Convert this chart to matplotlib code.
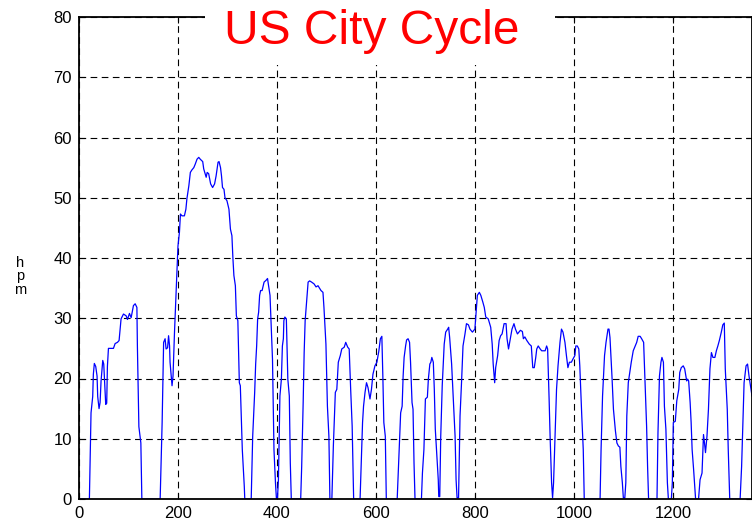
import matplotlib
matplotlib.use('Agg')
import matplotlib.pyplot as plt
from matplotlib.patches import Rectangle

plt.rcParams['font.family'] = ['Liberation Sans', 'DejaVu Sans']

# speed trace (time in s, speed in mph)
time_s = [0, 21, 22.3, 24.3, 27.7, 29, 31, 33.8, 36.5, 37.8, 40.5, 42.6, 44.6, 48, 50, 51.4, 54, 56, 57.4, 59.5,
          62.8, 69.6, 73, 77.7, 81, 85, 89.9, 95.3, 98, 102, 105.4, 110, 113.5, 117, 118, 121, 125, 127,
          164, 166, 168, 171, 174, 176, 179, 181, 183, 184, 188, 190, 193, 196, 198, 200, 203, 205, 208, 213,
          216, 218, 222, 225, 228, 232, 235, 238.5, 242, 245, 250, 252, 257, 259, 262, 266, 270, 274, 277, 279,
          281, 283, 286, 288, 290, 293, 295, 299, 303, 306, 309, 311, 313, 316, 318, 321, 324, 326, 330, 334, 335,
          348, 351, 355, 357, 359, 361, 363, 365, 367, 370, 374, 378, 381, 382, 386, 389, 391, 394, 397, 399,
          401, 403, 406, 409, 411, 413, 414, 416, 419, 422, 425, 427, 429,
          448, 450, 453, 455, 457, 460, 463, 466, 470, 475, 479, 483, 489, 493, 495, 499, 502, 505, 507,
          511, 514, 518, 521, 524, 528, 531, 536, 539, 543, 546, 549, 552, 555,
          568, 570, 573, 575, 578, 581, 584, 588, 591, 594, 598, 602, 606, 609, 612, 614, 616, 619, 621,
          643, 647, 650, 653, 655, 657, 660, 662, 665, 668, 670, 673, 675, 677, 679,
          692, 694, 697, 700, 704, 706, 709, 711, 713, 716, 718, 720, 724, 726, 727, 729, 731, 734, 736, 738,
          741, 745, 747, 749, 753, 756, 760, 762, 764, 767, 770, 773, 776, 780, 783, 787, 790, 795, 800, 803,
          805, 809, 812, 816, 819, 822, 827, 832, 835, 837, 840, 842, 846, 849, 852, 855, 859, 863, 865, 868,
          871, 875, 879, 882, 886, 889, 892, 896, 898, 901, 905, 910, 914, 917, 920, 923, 925, 928, 932, 935,
          938, 942, 945, 947, 950, 952, 955, 957, 959, 962, 965, 968, 972, 975, 978, 982, 985, 988, 991, 995,
          998, 1002, 1004, 1007, 1010, 1012, 1016, 1019, 1021,
          1053, 1055, 1058, 1060, 1062, 1065, 1069, 1071, 1073, 1077, 1080, 1084, 1087, 1090, 1093, 1095, 1098,
          1100, 1103, 1105, 1107, 1110, 1113, 1116, 1120, 1124, 1127, 1130, 1134, 1137, 1141, 1144, 1147, 1149, 1151,
          1168, 1170, 1173, 1176, 1178, 1181, 1183, 1186, 1189, 1191, 1197, 1199, 1201, 1205, 1208, 1212, 1214,
          1217, 1221, 1224, 1228, 1230, 1232, 1235, 1237, 1239, 1242, 1246, 1252, 1255, 1259, 1262, 1264, 1266,
          1269, 1272, 1275, 1278, 1281, 1285, 1288, 1291, 1294, 1298, 1301, 1304, 1306, 1310, 1312, 1315,
          1336, 1339, 1342, 1344, 1348, 1351, 1354, 1356, 1360]
speed_mph = [0, 0, 6, 14.3, 17, 20.7, 22.5, 22, 20.4, 17, 15, 16, 19.6, 23, 22.4, 20, 15.7, 15.9, 22, 25,
             25, 25, 25.8, 26, 26.3, 29.9, 30.7, 30.4, 29.8, 30.8, 30.1, 32.1, 32.4, 31.8, 25.4, 12, 9.3, 0,
             0, 6.6, 12.7, 26, 26.6, 24.9, 25.1, 27.1, 25.4, 22.7, 18.8, 20.4, 27.7, 33.8, 38.2, 42, 44.3, 47.3, 47, 47,
             48.1, 49.8, 52, 54.2, 54.6, 55, 55.6, 56.4, 56.7, 56.4, 56, 54.8, 53.4, 54.2, 54, 52.3, 51.7, 52.3, 53.6, 54.8,
             55.9, 56, 55, 53.6, 51.7, 51.4, 50, 49.5, 48.1, 44.8, 43.7, 40, 37.1, 35.4, 30.4, 29.6, 19.3, 18.8, 8.2, 2.1, 0,
             0, 10.4, 17.7, 22.4, 25.4, 29.9, 31, 33.8, 34.6, 34.6, 36, 36.3, 36.6, 36, 33.8, 27.7, 23.2, 8.2, 2.7, 0,
             0, 3.2, 17.1, 19.9, 25.4, 26.6, 29.6, 30.2, 29.9, 19.9, 17.1, 6, 0,
             0, 5.4, 16, 24.3, 29.6, 32.7, 36, 36.2, 36, 35.7, 35.2, 35.4, 34.6, 34.3, 31.8, 25.7, 15.4, 10.4, 0,
             0, 8.8, 17.7, 18.2, 22.7, 23.8, 24.9, 25.2, 26, 25.2, 24.9, 18.2, 12.1, 0,
             0, 4.9, 12.7, 15.4, 17.7, 19.3, 18.5, 16.6, 18.2, 20.7, 22.1, 22.7, 24.6, 26.6, 27, 20.4, 12.7, 10.4, 0,
             0, 8.2, 14.3, 15.4, 20.4, 23.5, 25.4, 26.4, 26.6, 26, 22.7, 16, 14.9, 6, 0,
             0, 4.3, 8.2, 16.6, 16.9, 19.9, 22.4, 22.7, 23.5, 22.7, 18.2, 11.6, 6, 3.2, 0.4, 0.4, 10.4, 18.8, 22.1, 25.7,
             27.7, 28.2, 28.5, 26.8, 22.4, 17.1, 10.4, 3.2, 0.2, 0.2, 13.8, 19.3, 25.4, 27.4, 29.1, 28.9, 28.2, 27.7, 28.2, 31.6,
             33.8, 34.3, 33.8, 32.7, 31.8, 30.2, 29.9, 28.5, 25.7, 22.4, 19.3, 21.8, 23.8, 26.3, 27.1, 27.4, 29.1, 29.1, 26.6, 24.9,
             26.3, 28.2, 29.1, 28.2, 27.4, 27.7, 28, 27.8, 26.6, 26.9, 26.3, 25.7, 25.4, 21.8, 21.8, 23.5, 24.9, 25.4, 24.9, 24.6,
             24.6, 24.6, 25.4, 24.9, 16.6, 10.4, 2.7, 0.2, 2.7, 10.4, 18.2, 22.1, 26, 28.2, 27.7, 26, 23.8, 21.8, 22.7, 22.7,
             23.2, 23.8, 25.4, 25.4, 24.9, 22.1, 13.8, 8.2, 0,
             0, 8.2, 17.1, 20.4, 23.8, 26, 28.2, 28.2, 26.8, 20.4, 14.9, 11.3, 9.3, 8.8, 8.6, 5.4, 2.7,
             0.2, 0.2, 2.7, 13.8, 19.3, 21, 22.7, 24.6, 25.4, 26, 27, 27, 26.6, 26, 19.3, 12.1, 5.4, 0,
             0, 11, 20.4, 22.7, 23.5, 22.7, 15.4, 11.6, 2.7, 0, 0, 2.7, 12.7, 12.9, 16.3, 18.2, 21,
             21.8, 22.1, 21.6, 19.6, 19.9, 19.6, 16, 12.7, 8.2, 4.9, 0, 0, 3.2, 4.3, 10.7, 9.3, 7.7,
             10.4, 14.9, 21.6, 24.3, 23.5, 23.5, 24.6, 25.4, 26.3, 27.7, 28.9, 29.2, 21.6, 14.9, 8.2, 0,
             0, 5.4, 13.8, 19.3, 22.1, 22.4, 20.4, 19.3, 17.1]

x_ticks = [0, 200, 400, 600, 800, 1000, 1200]
y_ticks = [0, 10, 20, 30, 40, 50, 60, 70, 80]

fig = plt.figure(figsize=(7.52, 5.26), dpi=100)
ax = fig.add_axes([79 / 752, 1 - 499 / 526, 1 - 79 / 752, (499 - 17) / 526])

ax.plot(time_s, speed_mph, color='#0000ff', lw=0.9)

ax.set_xlim(0, 1360)
ax.set_ylim(0, 80)
ax.set_xticks(x_ticks)
ax.set_yticks(y_ticks)
ax.tick_params(direction='in', top=True, right=True, length=4, labelsize=12, pad=5)
ax.grid(True, color='k', linestyle=(0, (6, 4)), linewidth=0.8)
for s in ax.spines.values():
    s.set_linewidth(1.3)

# white patch behind the title, covering the top frame
ax.add_patch(Rectangle((205 / 752, 1 - 65 / 526), 350 / 752, 65 / 526, transform=fig.transFigure,
                       facecolor='white', edgecolor='none', clip_on=False, zorder=3))
fig.text(372 / 752, 1 - 32 / 526, 'US City Cycle', color='red', fontsize=34.5,
         ha='center', va='center', zorder=4)

# garbled vertical y-label as in the source
fig.text(20 / 752, 1 - 263 / 526, 'h', fontsize=10.5, ha='center', va='center')
fig.text(20 / 752, 1 - 276 / 526, 'p', fontsize=10.5, ha='center', va='center')
fig.text(20 / 752, 1 - 290 / 526, 'm', fontsize=10.5, ha='center', va='center')

plt.savefig('out.png', dpi=100)
